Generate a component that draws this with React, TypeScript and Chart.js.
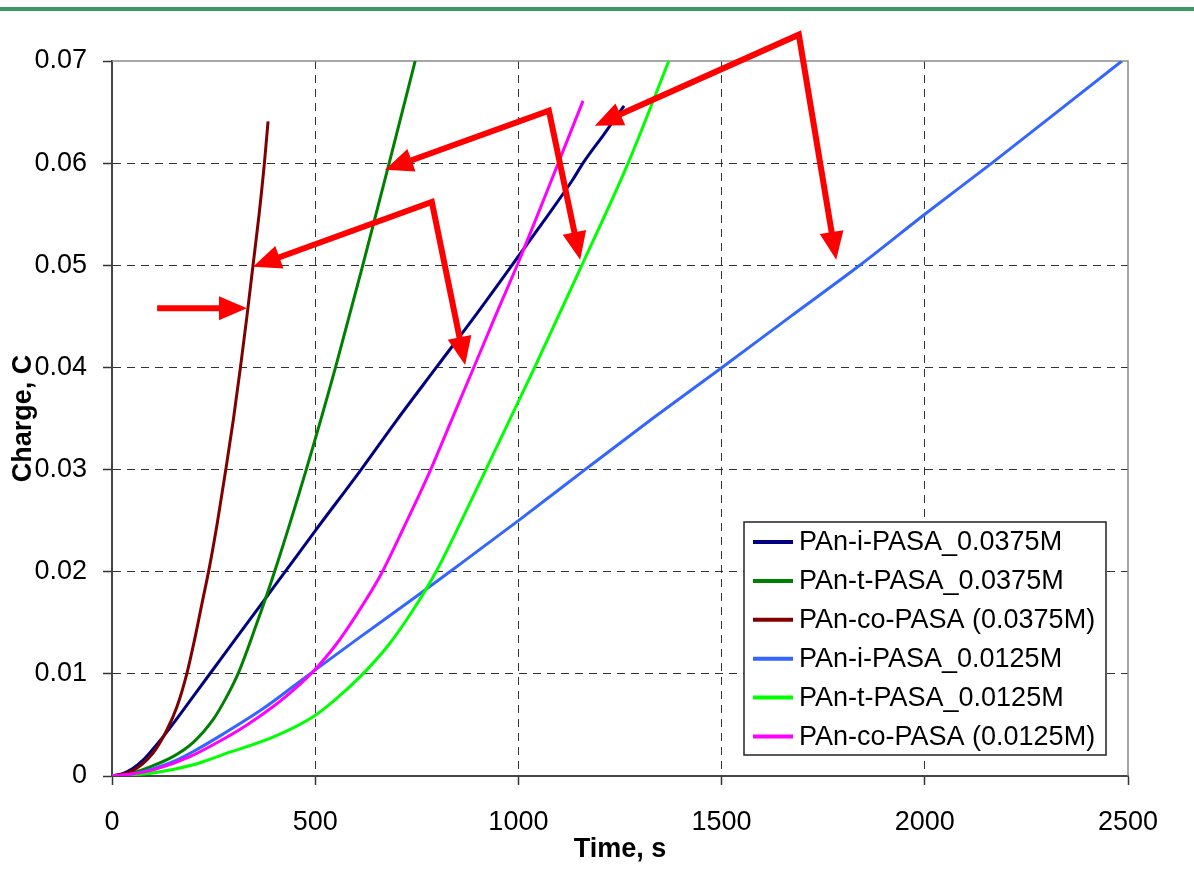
import React, { useEffect, useRef } from "react";
import { Chart, registerables } from "chart.js";

Chart.register(...registerables);

// ---- tick labels ----
const xTickValues = [0, 500, 1000, 1500, 2000, 2500];
const xTickLabels = ["0", "500", "1000", "1500", "2000", "2500"];
const yTickValues = [0, 0.01, 0.02, 0.03, 0.04, 0.05, 0.06, 0.07];
const yTickLabels = ["0", "0.01", "0.02", "0.03", "0.04", "0.05", "0.06", "0.07"];

// ---- series ----
const seriesLabels = [
  "PAn-i-PASA_0.0375M",
  "PAn-t-PASA_0.0375M",
  "PAn-co-PASA (0.0375M)",
  "PAn-i-PASA_0.0125M",
  "PAn-t-PASA_0.0125M",
  "PAn-co-PASA (0.0125M)",
];
const seriesColors = ["#000080", "#008000", "#800000", "#3366FF", "#00FF00", "#FF00FF"];

const iPasa0375Time = [0, 25, 50, 75, 100, 125, 150, 200, 250, 300, 376, 428, 500, 613, 700, 798, 900, 984, 1060, 1134, 1159, 1210, 1260];
const iPasa0375Charge = [0, 0.0002, 0.0007, 0.0015, 0.0026, 0.0038, 0.0051, 0.0078, 0.0105, 0.0132, 0.0173, 0.0201, 0.024, 0.03, 0.0348, 0.04, 0.0454, 0.05, 0.0542, 0.0584, 0.06, 0.0628, 0.0656];

const tPasa0375Time = [0, 50, 100, 150, 200, 250, 280, 310, 355, 400, 478, 550, 617, 682, 746];
const tPasa0375Charge = [0, 0.0003, 0.001, 0.0019, 0.0033, 0.0056, 0.0076, 0.01, 0.0148, 0.02, 0.03, 0.04, 0.05, 0.06, 0.07];

const coPasa0375Time = [0, 50, 100, 135, 160, 184, 204, 222, 240, 260, 280, 299, 316, 332, 347, 362, 375, 384];
const coPasa0375Charge = [0, 0.0005, 0.0022, 0.0045, 0.0068, 0.01, 0.0135, 0.017, 0.0205, 0.025, 0.03, 0.035, 0.04, 0.045, 0.05, 0.055, 0.06, 0.0641];

const iPasa0125Time = [0, 50, 100, 150, 200, 273, 372, 487, 600, 746, 838, 1000, 1164, 1330, 1501, 1670, 1840, 2000, 2165, 2325, 2485];
const iPasa0125Charge = [0, 0.0002, 0.0007, 0.0014, 0.0024, 0.0041, 0.0066, 0.01, 0.0133, 0.0175, 0.0202, 0.025, 0.03, 0.035, 0.04, 0.045, 0.05, 0.055, 0.06, 0.065, 0.07];

const tPasa0125Time = [0, 100, 200, 273, 396, 495, 550, 615, 680, 740, 800, 860, 920, 1040, 1156, 1270, 1370];
const tPasa0125Charge = [0, 0.0003, 0.0011, 0.0021, 0.0038, 0.0058, 0.0075, 0.0099, 0.0128, 0.0162, 0.0202, 0.025, 0.03, 0.04, 0.05, 0.06, 0.07];

const coPasa0125Time = [0, 50, 110, 192, 260, 332, 400, 463, 492, 550, 605, 660, 720, 782, 835, 885, 943, 999, 1050, 1098, 1159];
const coPasa0125Charge = [0, 0.0002, 0.0007, 0.0019, 0.0033, 0.005, 0.0069, 0.009, 0.0101, 0.0128, 0.016, 0.0196, 0.0245, 0.0298, 0.0348, 0.0395, 0.045, 0.0502, 0.0552, 0.06, 0.0661];

const seriesTimes = [iPasa0375Time, tPasa0375Time, coPasa0375Time, iPasa0125Time, tPasa0125Time, coPasa0125Time];
const seriesCharges = [iPasa0375Charge, tPasa0375Charge, coPasa0375Charge, iPasa0125Charge, tPasa0125Charge, coPasa0125Charge];

// ---- red annotation arrows (data coordinates: time, charge) ----
const arrowSingle = [[111, 0.0458], [332, 0.0458]];
const arrowCo = [[347, 0.04985], [787, 0.0562], [869, 0.04025]];
const arrowT = [[672, 0.05935], [1075, 0.06513], [1152, 0.05054]];
const arrowI = [[1188, 0.06366], [1690, 0.07258], [1782, 0.05054]];
const arrowPaths = [arrowSingle, arrowCo, arrowT, arrowI];
const arrowHeadAtStart = [false, true, true, true];

const FONT = "'Liberation Sans', Arial, sans-serif";
const FS = 27;

function drawHead(ctx: CanvasRenderingContext2D, tipX: number, tipY: number, fromX: number, fromY: number) {
  const L = 28;
  const W = 12;
  const dx = tipX - fromX;
  const dy = tipY - fromY;
  const len = Math.hypot(dx, dy) || 1;
  const ux = dx / len;
  const uy = dy / len;
  const bx = tipX - ux * L;
  const by = tipY - uy * L;
  ctx.beginPath();
  ctx.moveTo(tipX, tipY);
  ctx.lineTo(bx - uy * W, by + ux * W);
  ctx.lineTo(bx + uy * W, by - ux * W);
  ctx.closePath();
  ctx.fill();
}

const arrowsPlugin = {
  id: "arrows",
  afterDatasetsDraw(chart: any) {
    const { ctx, scales } = chart;
    const xs = scales.x;
    const ys = scales.y;
    ctx.save();
    ctx.strokeStyle = "#FF0000";
    ctx.fillStyle = "#FF0000";
    ctx.lineWidth = 6;
    ctx.lineJoin = "miter";
    ctx.lineCap = "butt";
    arrowPaths.forEach((path, k) => {
      const pts = path.map((p) => [xs.getPixelForValue(p[0]), ys.getPixelForValue(p[1])]);
      const n = pts.length;
      const shorten = (a: number[], b: number[]) => {
        const dx = a[0] - b[0];
        const dy = a[1] - b[1];
        const len = Math.hypot(dx, dy) || 1;
        return [a[0] - (dx / len) * 20, a[1] - (dy / len) * 20];
      };
      const first = arrowHeadAtStart[k] ? shorten(pts[0], pts[1]) : pts[0];
      const last = shorten(pts[n - 1], pts[n - 2]);
      ctx.beginPath();
      ctx.moveTo(first[0], first[1]);
      for (let i = 1; i < n - 1; i++) ctx.lineTo(pts[i][0], pts[i][1]);
      ctx.lineTo(last[0], last[1]);
      ctx.stroke();
      drawHead(ctx, pts[n - 1][0], pts[n - 1][1], pts[n - 2][0], pts[n - 2][1]);
      if (arrowHeadAtStart[k]) drawHead(ctx, pts[0][0], pts[0][1], pts[1][0], pts[1][1]);
    });
    ctx.restore();
  },
};

const framePlugin = {
  id: "frame",
  beforeDatasetsDraw(chart: any) {
    const { ctx, chartArea } = chart;
    ctx.save();
    ctx.strokeStyle = "#8a8a8a";
    ctx.lineWidth = 1.5;
    ctx.beginPath();
    ctx.moveTo(chartArea.left, chartArea.top);
    ctx.lineTo(chartArea.right, chartArea.top);
    ctx.lineTo(chartArea.right, chartArea.bottom);
    ctx.stroke();
    ctx.restore();
  },
};

const legendPlugin = {
  id: "boxLegend",
  afterDraw(chart: any) {
    const { ctx } = chart;
    const left = 744;
    const top = 522;
    const right = 1106;
    const bottom = 755;
    ctx.save();
    ctx.fillStyle = "#ffffff";
    ctx.fillRect(left, top, right - left, bottom - top);
    ctx.strokeStyle = "#222";
    ctx.lineWidth = 1.5;
    ctx.strokeRect(left, top, right - left, bottom - top);
    ctx.font = `${FS}px ${FONT}`;
    ctx.textBaseline = "middle";
    ctx.textAlign = "left";
    chart.data.datasets.forEach((ds: any, i: number) => {
      const cy = 542 + i * 38.9;
      ctx.strokeStyle = ds.borderColor;
      ctx.lineWidth = 4;
      ctx.beginPath();
      ctx.moveTo(753, cy);
      ctx.lineTo(793, cy);
      ctx.stroke();
      ctx.fillStyle = "#000";
      ctx.fillText(ds.label, 799, cy + 1);
    });
    ctx.restore();
  },
};

const isEdge = (v: number, lo: number, hi: number) => Math.abs(v - lo) < 1e-9 || Math.abs(v - hi) < 1e-9;

export default function App() {
  const ref = useRef<HTMLCanvasElement | null>(null);

  useEffect(() => {
    if (!ref.current) return;
    const datasets = seriesLabels.map((label, i) => ({
      label,
      data: seriesTimes[i].map((t, j) => ({ x: t, y: seriesCharges[i][j] })),
      borderColor: seriesColors[i],
      backgroundColor: seriesColors[i],
      borderWidth: 3,
      pointRadius: 0,
      showLine: true,
      fill: false,
      cubicInterpolationMode: "monotone" as const,
      order: seriesLabels.length - i,
    }));

    const chart = new Chart(ref.current, {
      type: "scatter",
      data: { datasets },
      plugins: [framePlugin, arrowsPlugin, legendPlugin],
      options: {
        responsive: false,
        animation: false,
        events: [],
        layout: { padding: { left: 0, right: 66, top: 61, bottom: 0 } },
        plugins: {
          legend: { display: false },
          tooltip: { enabled: false },
          title: { display: false },
        },
        scales: {
          x: {
            type: "linear",
            min: 0,
            max: 2500,
            afterBuildTicks: (scale: any) => {
              scale.ticks = xTickValues.map((v) => ({ value: v }));
            },
            afterFit: (scale: any) => {
              scale.height = 105;
            },
            ticks: {
              color: "#000",
              font: { family: FONT, size: FS },
              padding: 21,
              maxRotation: 0,
              autoSkip: false,
              callback: (_v: any, i: number) => xTickLabels[i],
            },
            grid: {
              color: (c: any) => (c.tick && isEdge(c.tick.value, 0, 2500) ? "rgba(0,0,0,0)" : "#333"),
              lineWidth: 1,
              tickLength: 9,
              tickColor: "#333",
              tickWidth: 1.5,
              tickBorderDash: [],
            },
            border: { display: true, color: "#444", width: 2, dash: [8, 6] },
            title: {
              display: true,
              text: "Time, s",
              color: "#000",
              font: { family: FONT, size: FS, weight: "bold" },
              padding: { top: 0, bottom: 15 },
            },
          },
          y: {
            type: "linear",
            min: 0,
            max: 0.07,
            afterBuildTicks: (scale: any) => {
              scale.ticks = yTickValues.map((v) => ({ value: v }));
            },
            afterFit: (scale: any) => {
              scale.width = 112;
            },
            ticks: {
              color: "#000",
              font: { family: FONT, size: FS },
              padding: 16,
              autoSkip: false,
              callback: (_v: any, i: number) => yTickLabels[i],
            },
            grid: {
              color: (c: any) => (c.tick && isEdge(c.tick.value, 0, 0.07) ? "rgba(0,0,0,0)" : "#333"),
              lineWidth: 1,
              tickLength: 9,
              tickColor: "#333",
              tickWidth: 1.5,
              tickBorderDash: [],
            },
            border: { display: true, color: "#444", width: 2, dash: [8, 6] },
            title: {
              display: true,
              text: "Charge, C",
              color: "#000",
              font: { family: FONT, size: FS, weight: "bold" },
              padding: { top: 7, bottom: 0 },
            },
          },
        },
      },
    });
    return () => chart.destroy();
  }, []);

  return (
    <div style={{ position: "absolute", left: 0, top: 0, width: 1194, height: 881, background: "#fff" }}>
      <div style={{ position: "absolute", left: 0, top: 7, width: 1194, height: 4, background: "#3c9a64" }} />
      <canvas ref={ref} width={1194} height={881} style={{ position: "absolute", left: 0, top: 0 }} />
    </div>
  );
}
